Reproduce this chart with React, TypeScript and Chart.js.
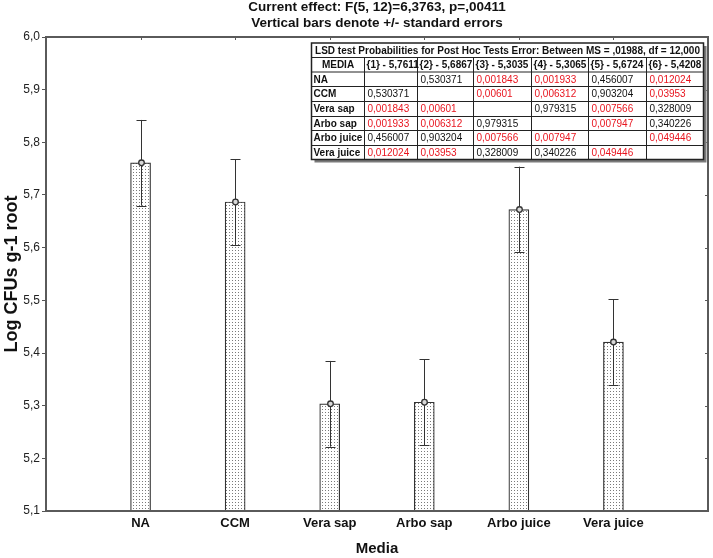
import React, { useEffect, useRef } from "react";
import { Chart, registerables } from "chart.js";

Chart.register(...registerables);

const categories = ["NA", "CCM", "Vera sap", "Arbo sap", "Arbo juice", "Vera juice"];
const means = [5.7611, 5.6867, 5.3035, 5.3065, 5.6724, 5.4208];
const stdErrors = [0.0814, 0.0814, 0.0814, 0.0814, 0.0814, 0.0814];
const yMin = 5.1;
const yMax = 6.0;
const yStep = 0.1;

const titleLines = [
  "Current effect: F(5, 12)=6,3763, p=,00411",
  "Vertical bars denote +/- standard errors",
];
const xTitle = "Media";
const yTitle = "Log CFUs g-1 root";

const tableTitle =
  "LSD test Probabilities for Post Hoc Tests Error: Between MS = ,01988, df = 12,000";
const tableHeader = [
  "MEDIA",
  "{1} - 5,7611",
  "{2} - 5,6867",
  "{3} - 5,3035",
  "{4} - 5,3065",
  "{5} - 5,6724",
  "{6} - 5,4208",
];
const rowNA = ["", "0,530371", "0,001843", "0,001933", "0,456007", "0,012024"];
const rowCCM = ["0,530371", "", "0,00601", "0,006312", "0,903204", "0,03953"];
const rowVeraSap = ["0,001843", "0,00601", "", "0,979315", "0,007566", "0,328009"];
const rowArboSap = ["0,001933", "0,006312", "0,979315", "", "0,007947", "0,340226"];
const rowArboJuice = ["0,456007", "0,903204", "0,007566", "0,007947", "", "0,049446"];
const rowVeraJuice = ["0,012024", "0,03953", "0,328009", "0,340226", "0,049446", ""];
const pValueRows = [rowNA, rowCCM, rowVeraSap, rowArboSap, rowArboJuice, rowVeraJuice];

const FONT = "'Liberation Sans', Arial, sans-serif";

function makePattern(): CanvasPattern | string {
  const c = document.createElement("canvas");
  c.width = 3;
  c.height = 3;
  const g = c.getContext("2d");
  if (!g) return "#eee";
  g.fillStyle = "#ffffff";
  g.fillRect(0, 0, 3, 3);
  g.fillStyle = "#7a7a7a";
  g.fillRect(1, 1, 1, 1);
  const p = g.createPattern(c, "repeat");
  return p || "#eee";
}

const overlayPlugin = {
  id: "overlay",
  afterDatasetsDraw(chart: any) {
    const ctx = chart.ctx as CanvasRenderingContext2D;
    const x = chart.scales.x;
    const y = chart.scales.y;
    ctx.save();
    ctx.strokeStyle = "#333";
    ctx.lineWidth = 1;
    means.forEach((m, i) => {
      const px = Math.round(x.getPixelForValue(i + 1)) + 0.5;
      const top = y.getPixelForValue(m + stdErrors[i]);
      const bot = y.getPixelForValue(m - stdErrors[i]);
      ctx.beginPath();
      ctx.moveTo(px, top);
      ctx.lineTo(px, bot);
      ctx.moveTo(px - 5, Math.round(top) + 0.5);
      ctx.lineTo(px + 5, Math.round(top) + 0.5);
      ctx.moveTo(px - 5, Math.round(bot) + 0.5);
      ctx.lineTo(px + 5, Math.round(bot) + 0.5);
      ctx.stroke();
      const py = y.getPixelForValue(m);
      ctx.beginPath();
      ctx.arc(px, py, 2.8, 0, Math.PI * 2);
      ctx.fillStyle = "#d8d8d8";
      ctx.fill();
      ctx.lineWidth = 1.3;
      ctx.stroke();
      ctx.lineWidth = 1;
    });
    ctx.restore();
  },
  afterDraw(chart: any) {
    const ctx = chart.ctx as CanvasRenderingContext2D;
    const a = chart.chartArea;
    const x = chart.scales.x;
    const y = chart.scales.y;
    ctx.save();
    ctx.strokeStyle = "#5a5a5a";
    ctx.lineWidth = 2;
    ctx.strokeRect(a.left, a.top, a.right - a.left, a.bottom - a.top);
    ctx.lineWidth = 1;
    ctx.beginPath();
    for (let i = 1; i <= categories.length; i++) {
      const px = Math.round(x.getPixelForValue(i)) + 0.5;
      ctx.moveTo(px, a.top);
      ctx.lineTo(px, a.top + 3);
    }
    for (let v = yMin; v <= yMax + 1e-9; v += yStep) {
      const py = Math.round(y.getPixelForValue(v)) + 0.5;
      ctx.moveTo(a.right, py);
      ctx.lineTo(a.right - 3, py);
    }
    ctx.stroke();

    ctx.fillStyle = "#111";
    ctx.textAlign = "center";
    ctx.textBaseline = "middle";
    ctx.font = `bold 13.5px ${FONT}`;
    const cx = (a.left + a.right) / 2;
    ctx.fillText(titleLines[0], cx, 7);
    ctx.fillText(titleLines[1], cx, 23);
    ctx.font = `bold 15px ${FONT}`;
    ctx.fillText(xTitle, cx, 549);
    ctx.save();
    ctx.translate(12, (a.top + a.bottom) / 2);
    ctx.rotate(-Math.PI / 2);
    ctx.font = `bold 18px ${FONT}`;
    ctx.fillText(yTitle, 0, 0);
    ctx.restore();

    const colX = [311.5, 364.5, 417.5, 473.5, 531.5, 588.5, 646.5, 703.5];
    const rowY = [43, 57.5, 72, 86.5, 101.5, 116.5, 130.5, 145.5, 159.5];
    const L = colX[0];
    const R = colX[colX.length - 1];
    const T = rowY[0];
    const B = rowY[rowY.length - 1];
    ctx.fillStyle = "#7a7a7a";
    ctx.fillRect(L + 3, T + 3, R - L, B - T);
    ctx.fillStyle = "#ffffff";
    ctx.fillRect(L, T, R - L, B - T);
    ctx.strokeStyle = "#222";
    ctx.lineWidth = 1;
    ctx.beginPath();
    for (let r = 1; r < rowY.length - 1; r++) {
      ctx.moveTo(L, rowY[r]);
      ctx.lineTo(R, rowY[r]);
    }
    for (let c = 1; c < colX.length - 1; c++) {
      ctx.moveTo(colX[c], rowY[1]);
      ctx.lineTo(colX[c], B);
    }
    ctx.stroke();
    ctx.lineWidth = 1.5;
    ctx.strokeRect(L, T, R - L, B - T);

    ctx.textBaseline = "middle";
    ctx.fillStyle = "#111";
    ctx.font = `bold 10px ${FONT}`;
    ctx.textAlign = "center";
    ctx.fillText(tableTitle, (L + R) / 2, (rowY[0] + rowY[1]) / 2 + 0.5);
    tableHeader.forEach((h, c) => {
      const my = (rowY[1] + rowY[2]) / 2 + 0.5;
      if (c === 0) {
        ctx.textAlign = "center";
        ctx.fillText(h, (colX[0] + colX[1]) / 2, my);
      } else {
        ctx.textAlign = "left";
        ctx.fillText(h, colX[c] + 2, my);
      }
    });
    categories.forEach((cat, r) => {
      const my = (rowY[r + 2] + rowY[r + 3]) / 2 + 0.5;
      ctx.font = `bold 10px ${FONT}`;
      ctx.textAlign = "left";
      ctx.fillStyle = "#111";
      ctx.fillText(cat, colX[0] + 2, my);
      ctx.font = `10px ${FONT}`;
      pValueRows[r].forEach((s, c) => {
        if (!s) return;
        const v = parseFloat(s.replace(",", "."));
        ctx.fillStyle = v < 0.05 ? "#e8141e" : "#111";
        ctx.fillText(s, colX[c + 1] + 3, my);
      });
    });
    ctx.restore();
  },
};

export default function App() {
  const ref = useRef<HTMLCanvasElement | null>(null);
  useEffect(() => {
    if (!ref.current) return;
    const pattern = makePattern();
    const chart = new Chart(ref.current, {
      type: "bar",
      data: {
        datasets: [
          {
            data: means.map((m, i) => ({ x: i + 1, y: m })) as any,
            backgroundColor: pattern as any,
            borderColor: "#333",
            borderWidth: 1.2,
            barThickness: 20,
            borderSkipped: false,
          },
        ],
      },
      options: {
        responsive: false,
        animation: false,
        devicePixelRatio: 1,
        layout: { padding: { top: 37, right: 2, left: 0, bottom: 0 } },
        plugins: {
          legend: { display: false },
          tooltip: { enabled: false },
          title: { display: false },
        },
        scales: {
          x: {
            type: "linear",
            min: 0,
            max: 7,
            offset: false,
            grid: { display: false, drawTicks: false, offset: false },
            border: { display: false },
            ticks: {
              stepSize: 1,
              autoSkip: false,
              maxRotation: 0,
              padding: 5,
              color: "#111",
              font: { family: FONT, size: 13, weight: "bold" },
              callback: (v: any) => categories[Number(v) - 1] ?? "",
            },
            afterFit: (s: any) => {
              s.height = 47;
            },
          },
          y: {
            min: yMin,
            max: yMax,
            grid: {
              drawOnChartArea: false,
              drawTicks: true,
              tickLength: 4,
              color: "#555",
            },
            border: { display: false },
            ticks: {
              stepSize: yStep,
              padding: 2,
              color: "#222",
              font: { family: FONT, size: 12 },
              callback: (v: any) => Number(v).toFixed(1).replace(".", ","),
            },
            afterFit: (s: any) => {
              s.width = 46;
            },
          },
        },
      } as any,
      plugins: [overlayPlugin],
    });
    return () => chart.destroy();
  }, []);
  return (
    <div style={{ position: "fixed", left: 0, top: 0, width: 713, height: 558, background: "#fff" }}>
      <canvas ref={ref} width={713} height={558} style={{ width: 713, height: 558, display: "block" }} />
    </div>
  );
}
